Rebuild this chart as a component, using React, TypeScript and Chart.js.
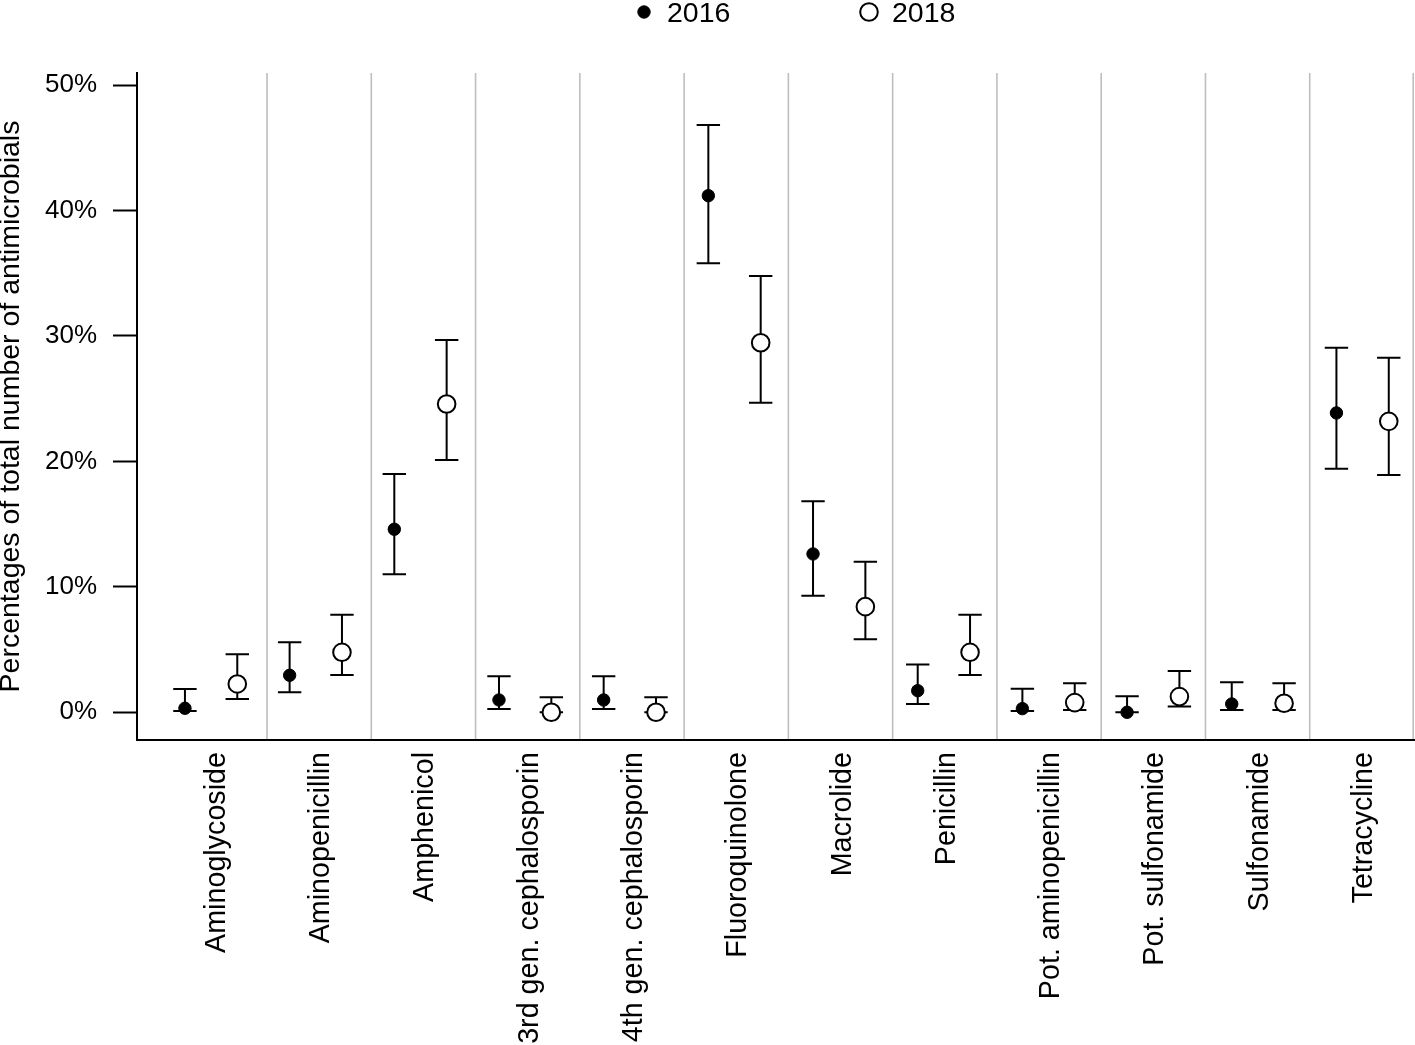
import { useEffect, useRef } from 'react';
import { Chart, registerables } from 'chart.js';

Chart.register(...registerables);

// ---------- data ----------
const categories = [
  'Aminoglycoside',
  'Aminopenicillin',
  'Amphenicol',
  '3rd gen. cephalosporin',
  '4th gen. cephalosporin',
  'Fluoroquinolone',
  'Macrolide',
  'Penicillin',
  'Pot. aminopenicillin',
  'Pot. sulfonamide',
  'Sulfonamide',
  'Tetracycline',
];

const seriesLabels = ['2016', '2018'];

const est2016 = [0.32, 2.95, 14.59, 0.98, 0.98, 41.18, 12.62, 1.72, 0.29, 0.0, 0.66, 23.86];
const low2016 = [0.1, 1.59, 11.0, 0.26, 0.26, 35.79, 9.29, 0.66, 0.1, 0.0, 0.18, 19.42];
const high2016 = [1.86, 5.58, 18.99, 2.87, 2.87, 46.81, 16.82, 3.8, 1.88, 1.27, 2.39, 29.06];

const est2018 = [2.26, 4.78, 24.57, 0.0, 0.0, 29.46, 8.42, 4.78, 0.77, 1.25, 0.72, 23.19];
const low2018 = [1.06, 2.97, 20.11, 0.0, 0.0, 24.68, 5.82, 2.97, 0.18, 0.47, 0.18, 18.91];
const high2018 = [4.62, 7.78, 29.67, 1.2, 1.2, 34.78, 12.0, 7.78, 2.31, 3.29, 2.31, 28.26];

const yTickValues = [0, 10, 20, 30, 40, 50];
const yAxisTitle = 'Percentages of total number of antimicrobials';

// ---------- style ----------
const FONT = '"Liberation Sans", Arial, Helvetica, sans-serif';
const INK = '#000000';
const SEP_COLOR = '#bebebe';
const DODGE = 0.25;
const LABEL_SHIFT = 0.02;
const CAP_HALF = 11.7;
const LEGEND_MARKER_X = [644, 869];
const LEGEND_TEXT_GAP = 23;

const separatorsAndErrorBars = {
  id: 'separatorsAndErrorBars',
  beforeDatasetsDraw(chart: any) {
    const { ctx, chartArea, scales } = chart;
    const xs = scales.x;
    const xp = scales.xp;
    const y = scales.y;
    ctx.save();
    // category separators
    ctx.strokeStyle = SEP_COLOR;
    ctx.lineWidth = 1.6;
    categories.forEach((_, i) => {
      const px = Math.min(xs.getPixelForValue(i + 0.5), chartArea.right - 0.8);
      ctx.beginPath();
      ctx.moveTo(px, chartArea.top);
      ctx.lineTo(px, chartArea.bottom - 1);
      ctx.stroke();
    });
    // error bars
    ctx.strokeStyle = INK;
    ctx.lineWidth = 2;
    chart.data.datasets.forEach((ds: any) => {
      ds.data.forEach((pt: any, i: number) => {
        const px = xp.getPixelForValue(pt.x);
        const yl = y.getPixelForValue(ds.lows[i]);
        const yh = y.getPixelForValue(ds.highs[i]);
        ctx.beginPath();
        ctx.moveTo(px, yl);
        ctx.lineTo(px, yh);
        ctx.moveTo(px - CAP_HALF, yl);
        ctx.lineTo(px + CAP_HALF, yl);
        ctx.moveTo(px - CAP_HALF, yh);
        ctx.lineTo(px + CAP_HALF, yh);
        ctx.stroke();
      });
    });
    ctx.restore();
  },
};

const topLegend = {
  id: 'topLegend',
  afterDraw(chart: any) {
    const { ctx } = chart;
    ctx.save();
    chart.data.datasets.forEach((ds: any, k: number) => {
      const mx = LEGEND_MARKER_X[k];
      const my = 12;
      ctx.beginPath();
      ctx.arc(mx, my, ds.pointRadius, 0, Math.PI * 2);
      ctx.fillStyle = ds.pointBackgroundColor;
      ctx.fill();
      ctx.lineWidth = ds.pointBorderWidth;
      ctx.strokeStyle = ds.pointBorderColor;
      ctx.stroke();
      ctx.fillStyle = INK;
      ctx.font = `28.5px ${FONT}`;
      ctx.textAlign = 'left';
      ctx.textBaseline = 'alphabetic';
      ctx.fillText(ds.label, mx + LEGEND_TEXT_GAP, 22);
    });
    ctx.restore();
  },
};

export default function App() {
  const canvasRef = useRef<HTMLCanvasElement | null>(null);

  useEffect(() => {
    if (!canvasRef.current) return;
    const makeData = (est: number[], shift: number) =>
      est.map((v, i) => ({ x: i + shift, y: v }));

    const chart = new Chart(canvasRef.current, {
      type: 'scatter',
      data: {
        datasets: [
          {
            label: seriesLabels[0],
            data: makeData(est2016, -DODGE),
            lows: low2016,
            highs: high2016,
            xAxisID: 'xp',
            yAxisID: 'y',
            pointRadius: 6.2,
            pointBackgroundColor: INK,
            pointBorderColor: INK,
            pointBorderWidth: 1,
          } as any,
          {
            label: seriesLabels[1],
            data: makeData(est2018, DODGE),
            lows: low2018,
            highs: high2018,
            xAxisID: 'xp',
            yAxisID: 'y',
            pointRadius: 8.8,
            pointBackgroundColor: '#ffffff',
            pointBorderColor: INK,
            pointBorderWidth: 2,
          } as any,
        ],
      },
      options: {
        responsive: false,
        animation: false,
        devicePixelRatio: 1,
        events: [],
        layout: { autoPadding: false, padding: { top: 73, right: 1, left: 0, bottom: 0 } },
        plugins: {
          legend: { display: false },
          tooltip: { enabled: false },
        },
        scales: {
          x: {
            type: 'linear',
            position: 'bottom',
            min: -0.747,
            max: 11.5,
            afterBuildTicks: (s: any) => {
              s.ticks = categories.map((_, i) => ({ value: i + LABEL_SHIFT }));
            },
            afterFit: (s: any) => {
              s.height = 305;
              s.paddingLeft = 0;
              s.paddingRight = 0;
            },
            ticks: {
              autoSkip: false,
              minRotation: 90,
              maxRotation: 90,
              padding: 12,
              color: INK,
              font: { family: FONT, size: 28.7 },
              callback: (_v: any, index: number) => categories[index],
            },
            grid: { display: true, drawOnChartArea: false, drawTicks: false },
            border: { display: true, color: INK, width: 2 },
          },
          xp: {
            type: 'linear',
            display: false,
            min: -0.708,
            max: 11.491,
          },
          y: {
            type: 'linear',
            position: 'left',
            min: -2.21,
            max: 50.96,
            afterBuildTicks: (s: any) => {
              s.ticks = yTickValues.map((v) => ({ value: v }));
            },
            afterFit: (s: any) => {
              s.width = 137;
              s.paddingTop = 0;
              s.paddingBottom = 0;
            },
            ticks: {
              padding: 16,
              color: INK,
              font: { family: FONT, size: 26 },
              callback: (v: any) => `${v}%`,
            },
            grid: {
              display: true,
              drawOnChartArea: false,
              drawTicks: true,
              tickLength: 24,
              tickColor: INK,
              tickWidth: 2,
            },
            border: { display: true, color: INK, width: 2 },
            title: {
              display: true,
              text: yAxisTitle,
              color: INK,
              font: { family: FONT, size: 28.5, lineHeight: '22px' },
              padding: { top: 0, bottom: 0 },
            },
          },
        },
      } as any,
      plugins: [separatorsAndErrorBars, topLegend],
    });

    return () => chart.destroy();
  }, []);

  return (
    <div style={{ position: 'absolute', left: 0, top: 0, width: 1415, height: 1045, background: '#fff' }}>
      <canvas ref={canvasRef} width={1415} height={1045} style={{ display: 'block' }} />
    </div>
  );
}
